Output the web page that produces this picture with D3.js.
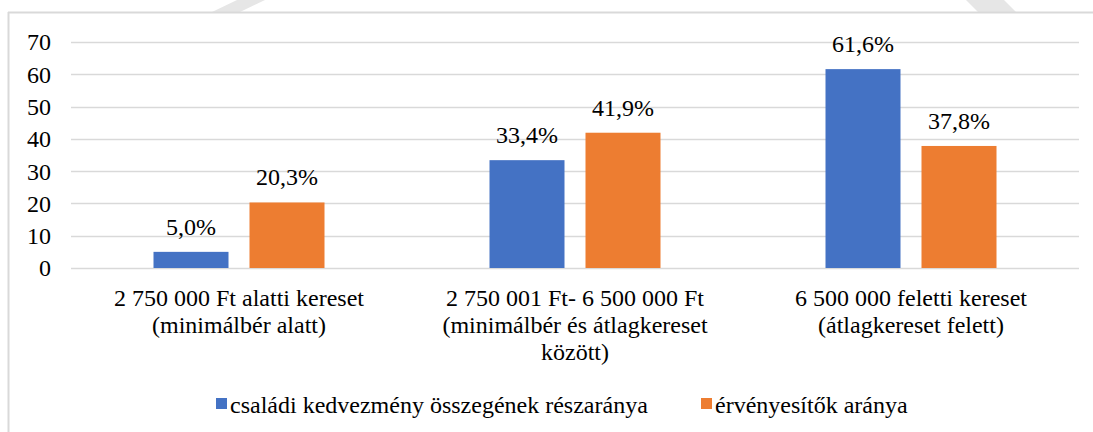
<!DOCTYPE html>
<html>
<head>
<meta charset="utf-8">
<script src="https://cdn.jsdelivr.net/npm/d3@7"></script>
</head>
<body style="margin:0">
<svg width="1093" height="432"></svg>
<script>
// data
var categories = [
  ["2 750 000 Ft alatti kereset", "(minimálbér alatt)"],
  ["2 750 001 Ft- 6 500 000 Ft", "(minimálbér és átlagkereset", "között)"],
  ["6 500 000 feletti kereset", "(átlagkereset felett)"]
];
var seriesNames = ["családi kedvezmény összegének részaránya", "érvényesítők aránya"];
var seriesA = [5.0, 33.4, 61.6];
var seriesB = [20.3, 41.9, 37.8];
var yTicks = [0, 10, 20, 30, 40, 50, 60, 70];

var colors = ["#4472C4", "#ED7D31"];
var svg = d3.select("svg");

function serifText(sel) {
  sel.attr("style", "font-family: 'Liberation Serif', 'Times New Roman', Tinos !important; font-size: 24px !important")
    .attr("fill", "#000");
}

// faint watermark pieces at the top
svg.append("polygon").attr("points", "237,0 265,0 240,12 212,12").attr("fill", "#e6e6e6");
svg.append("polygon").attr("points", "966,0 1004,0 1016,12 978,12").attr("fill", "#e6e6e6");

// chart border (top + left only visible)
svg.append("line").attr("x1", 8).attr("x2", 1093).attr("y1", 12.5).attr("y2", 12.5)
  .attr("stroke", "#d9d9d9").attr("stroke-width", 2);
svg.append("line").attr("x1", 8.5).attr("x2", 8.5).attr("y1", 12).attr("y2", 432)
  .attr("stroke", "#d9d9d9").attr("stroke-width", 2);

var catKeys = categories.map(function(d, i) { return i; });
var x0 = d3.scaleBand().domain(catKeys).range([71, 1079]).padding(0);
var x1 = d3.scaleBand().domain([0, 1]).range([0, x0.bandwidth()])
  .paddingInner(0.21875).paddingOuter(0.859375);
var y = d3.scaleLinear().domain([0, 70]).range([268, 42]);

// gridlines
svg.append("g").selectAll("line").data(yTicks).enter().append("line")
  .attr("x1", 71).attr("x2", 1079)
  .attr("y1", function(d) { return Math.round(y(d)) + 0.5; })
  .attr("y2", function(d) { return Math.round(y(d)) + 0.5; })
  .attr("stroke", "#d9d9d9").attr("stroke-width", 1.5);

// y axis labels
var yAxis = d3.axisLeft(y).tickValues(yTicks).tickSize(0).tickPadding(0);
var ya = svg.append("g").attr("transform", "translate(51,0)").call(yAxis);
ya.attr("font-family", null).attr("font-size", null);
ya.select(".domain").remove();
ya.selectAll("text").attr("dy", "0.33em").call(serifText);

var rows = catKeys.map(function(i) {
  return [{c: i, s: 0, v: seriesA[i]}, {c: i, s: 1, v: seriesB[i]}];
});

var groups = svg.append("g").selectAll("g").data(rows).enter().append("g")
  .attr("transform", function(d, i) { return "translate(" + x0(i) + ",0)"; });

groups.selectAll("rect").data(function(d) { return d; }).enter().append("rect")
  .attr("x", function(d) { return x1(d.s); })
  .attr("width", x1.bandwidth())
  .attr("y", function(d) { return y(d.v); })
  .attr("height", function(d) { return y(0) - y(d.v); })
  .attr("fill", function(d) { return colors[d.s]; });

groups.selectAll("text").data(function(d) { return d; }).enter().append("text")
  .attr("x", function(d) { return x1(d.s) + x1.bandwidth() / 2; })
  .attr("y", function(d) { return y(d.v) - 17; })
  .attr("text-anchor", "middle")
  .call(serifText)
  .text(function(d) { return d.v.toFixed(1).replace(".", ",") + "%"; });

// category labels
var xl = svg.append("g").selectAll("text").data(categories).enter().append("text")
  .attr("text-anchor", "middle")
  .attr("x", function(d, i) { return x0(i) + x0.bandwidth() / 2; })
  .attr("y", 306)
  .call(serifText);
xl.selectAll("tspan").data(function(d) { return d; }).enter().append("tspan")
  .attr("x", function() { return d3.select(this.parentNode).attr("x"); })
  .attr("dy", function(d, i) { return i === 0 ? 0 : 27; })
  .text(function(d) { return d; });

// legend
var legendX = [216, 701];
var lg = svg.append("g").selectAll("g").data(seriesNames).enter().append("g")
  .attr("transform", function(d, i) { return "translate(" + legendX[i] + ",0)"; });
lg.append("rect").attr("x", 0).attr("y", 398).attr("width", 11).attr("height", 11)
  .attr("fill", function(d, i) { return colors[i]; });
lg.append("text").attr("x", 14).attr("y", 413)
  .call(serifText)
  .text(function(d) { return d; });
</script>
</body>
</html>
